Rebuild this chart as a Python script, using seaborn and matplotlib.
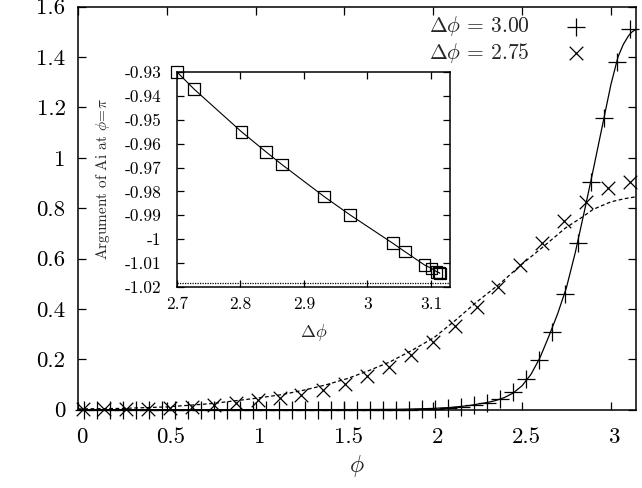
import numpy as np
import seaborn as sns
import matplotlib.pyplot as plt
import matplotlib.transforms as mtransforms
from matplotlib.ticker import FuncFormatter, MultipleLocator

# --- data ---
# Delta phi = 3.00, simulation points (+)
phi_300 = [0.0365, 0.1096, 0.1826, 0.2557, 0.3288, 0.4018, 0.4749, 0.5480,
           0.6210, 0.6941, 0.7671, 0.8402, 0.9133, 0.9863, 1.0594, 1.1325,
           1.2055, 1.2786, 1.3516, 1.4247, 1.4978, 1.5708, 1.6439, 1.7169,
           1.7900, 1.8631, 1.9361, 2.0092, 2.0823, 2.1553, 2.2284, 2.3014,
           2.3745, 2.4476, 2.5206, 2.5937, 2.6668, 2.7398, 2.8129, 2.8859,
           2.9590, 3.0321, 3.1051]
val_300 = [0.0, 0.0, 0.0, 0.0, 0.0, 0.0, 0.0, 0.0,
           0.0, 0.0, 0.0, 0.0, 0.0, 0.0, 0.0, 0.0,
           0.0, 0.0, 0.0, 0.0, 0.0, 0.0, 0.0, 0.0,
           0.0, 0.0, 0.001, 0.002, 0.005, 0.010, 0.017, 0.028,
           0.042, 0.069, 0.122, 0.197, 0.308, 0.460, 0.660, 0.904,
           1.159, 1.380, 1.512]

# Delta phi = 2.75, simulation points (x)
phi_275 = [0.026, 0.149, 0.272, 0.396, 0.519, 0.642, 0.765, 0.888, 1.012,
           1.135, 1.258, 1.381, 1.504, 1.628, 1.751, 1.874, 1.997, 2.120,
           2.244, 2.367, 2.490, 2.613, 2.736, 2.860, 2.983, 3.106]
val_275 = [0.003, 0.003, 0.004, 0.004, 0.006, 0.012, 0.020, 0.027, 0.037,
           0.048, 0.060, 0.080, 0.103, 0.134, 0.171, 0.217, 0.270, 0.332,
           0.408, 0.488, 0.574, 0.662, 0.748, 0.825, 0.878, 0.904]

# theory curves
curve_x_300 = [0.0, 1.0, 1.6, 1.8, 1.9, 2.0, 2.1, 2.2, 2.3, 2.35, 2.4, 2.45,
               2.5, 2.55, 2.6, 2.65, 2.7, 2.75, 2.8, 2.85, 2.9, 2.95, 3.0,
               3.04, 3.07, 3.1, 3.12, 3.1416]
curve_y_300 = [0.0, 0.0, 0.0005, 0.0015, 0.003, 0.005, 0.009, 0.016, 0.028,
               0.036, 0.048, 0.066, 0.095, 0.14, 0.205, 0.29, 0.38, 0.485,
               0.625, 0.785, 0.95, 1.12, 1.29, 1.40, 1.45, 1.485, 1.50, 1.51]

curve_x_275 = [0.0, 0.25, 0.5, 0.75, 1.0, 1.15, 1.275, 1.393, 1.519, 1.637,
               1.757, 1.884, 2.006, 2.127, 2.24, 2.375, 2.493, 2.618, 2.742,
               2.84, 2.9, 3.0, 3.08, 3.1416]
curve_y_275 = [0.003, 0.005, 0.011, 0.024, 0.045, 0.06, 0.078, 0.098, 0.124,
               0.155, 0.19, 0.237, 0.287, 0.356, 0.425, 0.5, 0.574, 0.646,
               0.72, 0.765, 0.795, 0.825, 0.838, 0.845]

# inset: argument of Ai at phi = pi vs Delta phi
inset_dphi = [2.700, 2.727, 2.8015, 2.840, 2.865, 2.932, 2.973, 3.040,
              3.059, 3.090, 3.101, 3.109, 3.113, 3.114]
inset_arg = [-0.9300, -0.9372, -0.9550, -0.9634, -0.9687, -0.9822, -0.9899,
             -1.0017, -1.0052, -1.0108, -1.0122, -1.0136, -1.0140, -1.0143]
inset_limit = -1.0182

sns.set_theme(style="ticks")
plt.rcParams["font.family"] = ["serif"]
plt.rcParams["font.serif"] = ["cmr10", "DejaVu Serif"]
plt.rcParams["mathtext.fontset"] = "cm"
plt.rcParams["axes.unicode_minus"] = False
plt.rcParams["axes.edgecolor"] = "black"
plt.rcParams["axes.linewidth"] = 1.1

fmt = FuncFormatter(lambda v, p: "%g" % round(v, 6))

fig = plt.figure(figsize=(6.42, 4.88), dpi=100)
ax = fig.add_axes([0.1215, 0.1605, 0.8692, 0.826])

sns.lineplot(x=curve_x_300, y=curve_y_300, ax=ax, color="black", lw=0.9)
sns.lineplot(x=curve_x_275, y=curve_y_275, ax=ax, color="black", lw=0.9,
             linestyle=(0, (3, 2)))
sns.scatterplot(x=phi_300, y=val_300, ax=ax, marker="+", s=150, color="black",
                linewidth=0.9, label=r"$\Delta\phi\,=\,3.00$", zorder=3,
                clip_on=False)
sns.scatterplot(x=phi_275, y=val_275, ax=ax, marker="x", s=95, color="black",
                linewidth=0.9, label=r"$\Delta\phi\,=\,2.75$", zorder=3,
                clip_on=False)

ax.set_xlim(0, np.pi)
ax.set_ylim(0, 1.6)
ax.xaxis.set_major_locator(MultipleLocator(0.5))
ax.yaxis.set_major_locator(MultipleLocator(0.2))
ax.xaxis.set_major_formatter(fmt)
ax.yaxis.set_major_formatter(fmt)
ax.tick_params(direction="in", length=6, width=0.9, top=True, right=True,
               labelsize=16.5, pad=9, colors="black")
ax.tick_params(axis="x", pad=13)
ax.set_xlabel(r"$\phi$", fontsize=17, labelpad=4)
ax.set_ylabel("")

# gnuplot/latex labels sit a little right of their ticks
shift = mtransforms.ScaledTranslation(3 / 72, 0, fig.dpi_scale_trans)
for lab in ax.get_xticklabels():
    lab.set_transform(lab.get_transform() + shift)

ax.legend(loc="upper right", bbox_to_anchor=(0.942, 0.971),
          bbox_transform=fig.transFigure, frameon=False, markerfirst=False,
          fontsize=15.5, handlelength=2.7, handletextpad=0.8, borderpad=0,
          borderaxespad=0, labelspacing=0.12)

# inset
axi = fig.add_axes([0.2757, 0.4119, 0.4252, 0.4406])
axi.set_facecolor("white")
sns.lineplot(x=inset_dphi, y=inset_arg, ax=axi, color="black", lw=0.8)
sns.scatterplot(x=inset_dphi, y=inset_arg, ax=axi, marker="s", s=70,
                facecolor="none", edgecolor="black", linewidth=0.9, zorder=3,
                clip_on=False)
axi.axhline(inset_limit, color="black", lw=0.9, linestyle=(0, (1, 1)))
axi.set_xlim(2.7, 3.13)
axi.set_ylim(-1.02, -0.93)
axi.xaxis.set_major_locator(MultipleLocator(0.1))
axi.yaxis.set_major_locator(MultipleLocator(0.01))
axi.xaxis.set_major_formatter(fmt)
axi.yaxis.set_major_formatter(fmt)
axi.tick_params(direction="in", length=5, width=0.9, top=True, right=True,
                labelsize=12.5, pad=7, colors="black")
axi.tick_params(axis="y", pad=11)
axi.set_xlabel(r"$\Delta\phi$", fontsize=13, labelpad=7)
axi.set_ylabel(r"Argument of Ai at $\phi\!=\!\pi$", fontsize=11, labelpad=9)

fig.savefig("out.png", dpi=100)
